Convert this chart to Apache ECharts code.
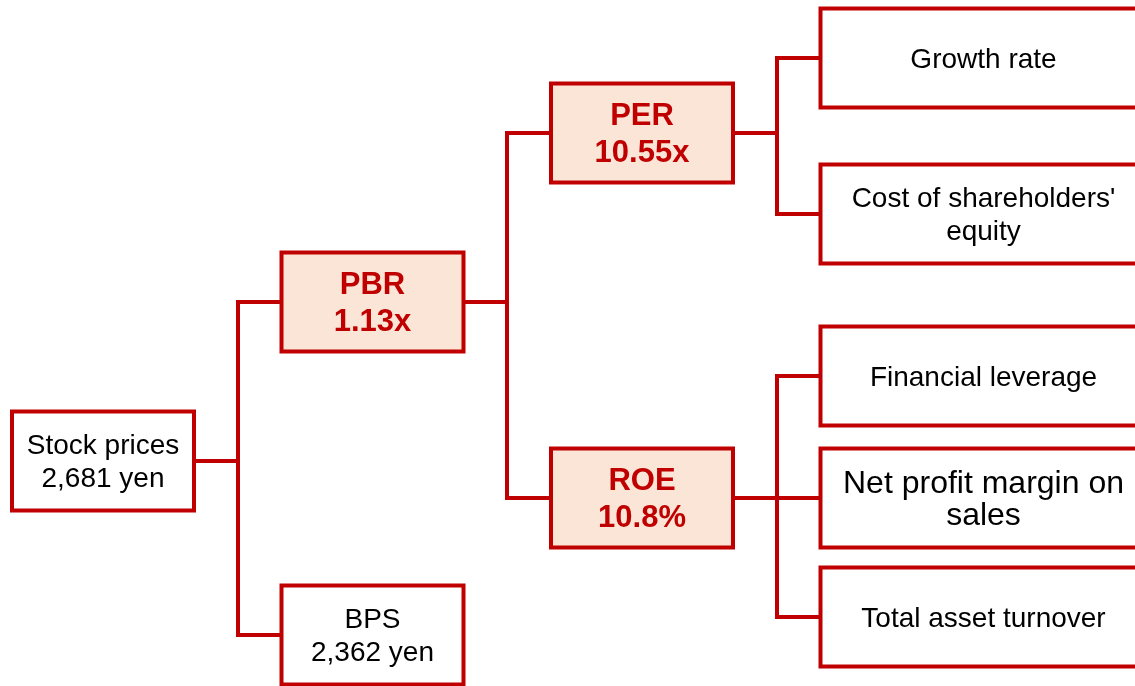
<!DOCTYPE html>
<html>
<head>
<meta charset="utf-8">
<title>Stock price breakdown</title>
<script src="https://cdn.jsdelivr.net/npm/echarts@6/dist/echarts.min.js"></script>
<style>
    html, body { margin: 0; padding: 0; background: #fff; }
    #main { width: 1135px; height: 686px; }
</style>
</head>
<body>
<div id="main"></div>
<script type="text/javascript">
    // tree nodes: name, value, depth, parent, vertical row position
    var nodeName = ['Stock prices', 'PBR', 'BPS', 'PER', 'ROE', 'Growth rate', "Cost of shareholders'\nequity",
        'Financial leverage', 'Net profit margin on\nsales', 'Total asset turnover'];
    var nodeValue = ['2,681 yen', '1.13x', '2,362 yen', '10.55x', '10.8%', '', '', '', '', ''];
    var nodeLevel = [0, 1, 1, 2, 2, 3, 3, 3, 3, 3];
    var nodeParent = [-1, 0, 0, 1, 1, 3, 3, 4, 4, 4];
    var nodeRow = [461, 302, 635, 133, 498, 58, 214, 376, 498, 617];
    var keyNodes = [1, 3, 4]; // PBR, PER, ROE

    // styles
    var RED = '#C00000', FILL = '#FBE5D6';
    var BOX_W = [182, 182, 182, 326], BOX_H = 99;
    var FONT = '"Liberation Sans", Arial, sans-serif';
    var bigText = {8: 32};

    var boxData = nodeName.map(function (n, i) { return [nodeLevel[i], nodeRow[i]]; });
    var linkParents = [];
    nodeParent.forEach(function (p) {
        if (p >= 0 && linkParents.indexOf(p) < 0) linkParents.push(p);
    });
    var linkData = linkParents.map(function (p) { return [nodeLevel[p], nodeRow[p]]; });

    function renderBox(params, api) {
        var i = params.dataIndex;
        var p = api.coord([api.value(0), api.value(1)]);
        var w = BOX_W[nodeLevel[i]];
        var key = keyNodes.indexOf(i) >= 0;
        var txt = nodeValue[i] ? nodeName[i] + '\n' + nodeValue[i] : nodeName[i];
        var size = key ? 31 : (bigText[i] || 28);
        return {
            type: 'group',
            children: [{
                type: 'rect',
                shape: {x: p[0], y: p[1] - BOX_H / 2, width: w, height: BOX_H},
                style: {fill: key ? FILL : '#fff', stroke: RED, lineWidth: 4}
            }, {
                type: 'text',
                style: {
                    text: txt, x: p[0] + w / 2, y: p[1] + 2,
                    align: 'center', verticalAlign: 'middle',
                    fill: key ? RED : '#000', fontSize: size,
                    fontWeight: key ? 'bold' : 'normal', fontFamily: FONT,
                    lineHeight: key ? 37 : (bigText[i] ? 32 : 33)
                }
            }]
        };
    }

    function renderLink(params, api) {
        var pid = linkParents[params.dataIndex];
        var lv = nodeLevel[pid];
        var p = api.coord([lv, nodeRow[pid]]);
        var right = p[0] + BOX_W[lv];
        var childLeft = api.coord([lv + 1, 0])[0];
        var ex = Math.round((right + childLeft) / 2);
        var st = {stroke: RED, lineWidth: 4, lineCap: 'square'};
        var lines = [{type: 'line', shape: {x1: right, y1: p[1], x2: ex, y2: p[1]}, style: st}];
        var top = p[1], bot = p[1];
        nodeParent.forEach(function (par, k) {
            if (par !== pid) return;
            var c = api.coord([nodeLevel[k], nodeRow[k]]);
            top = Math.min(top, c[1]);
            bot = Math.max(bot, c[1]);
            lines.push({type: 'line', shape: {x1: ex, y1: c[1], x2: c[0], y2: c[1]}, style: st});
        });
        lines.push({type: 'line', shape: {x1: ex, y1: top, x2: ex, y2: bot}, style: st});
        return {type: 'group', children: lines};
    }

    var myChart = echarts.init(document.getElementById('main'));
    myChart.setOption({
        animation: false,
        grid: {left: 12, top: 0, width: 1078, height: 686},
        xAxis: {type: 'value', min: 0, max: 4, show: false},
        yAxis: {type: 'value', min: 0, max: 686, inverse: true, show: false},
        series: [{
            type: 'custom',
            z: 1,
            renderItem: renderLink,
            data: linkData
        }, {
            type: 'custom',
            z: 2,
            renderItem: renderBox,
            data: boxData
        }]
    });
</script>
</body>
</html>
